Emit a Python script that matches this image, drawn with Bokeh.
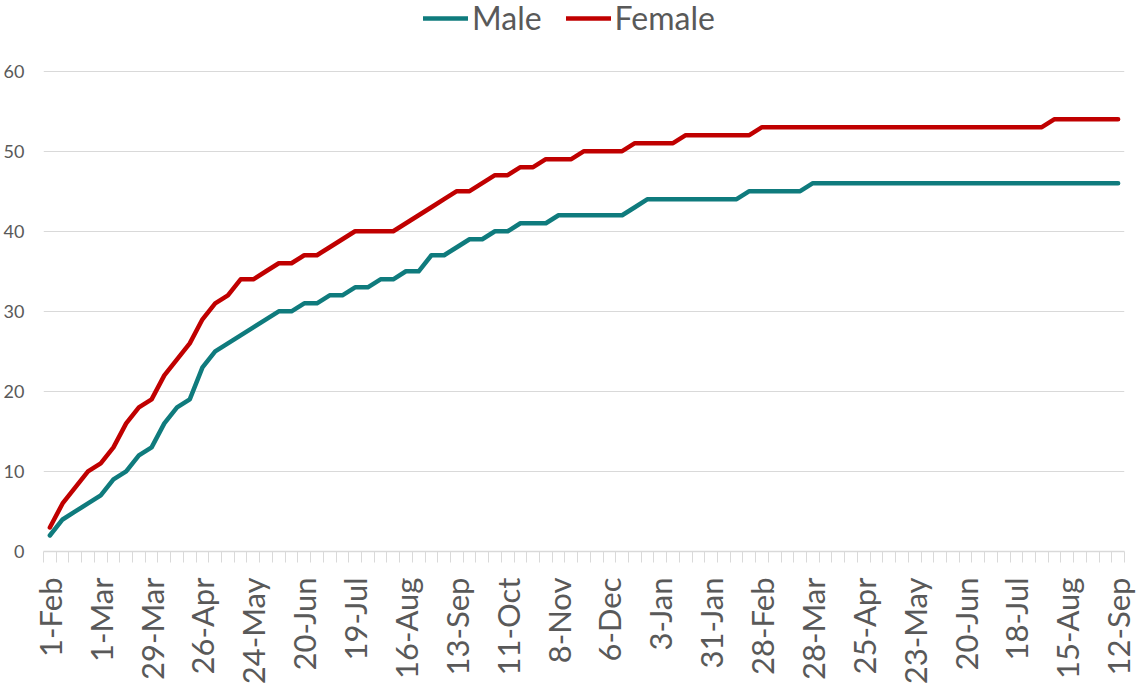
from bokeh.plotting import figure
from bokeh.models import Range1d, FixedTicker, Legend, LegendItem
from bokeh.embed import file_html
from bokeh.resources import INLINE
import math

# Weekly cumulative counts (one value per week, starting 1-Feb)
male = [2, 4, 5, 6, 7, 9, 10, 12, 13, 16, 18, 19, 23, 25, 26, 27, 28, 29, 30, 30,
        31, 31, 32, 32, 33, 33, 34, 34, 35, 35, 37, 37, 38, 39, 39, 40, 40, 41, 41, 41,
        42, 42, 42, 42, 42, 42, 43, 44, 44, 44, 44, 44, 44, 44, 44, 45, 45, 45, 45, 45,
        46, 46, 46, 46, 46, 46, 46, 46, 46, 46, 46, 46, 46, 46, 46, 46, 46, 46, 46, 46,
        46, 46, 46, 46, 46]
female = [3, 6, 8, 10, 11, 13, 16, 18, 19, 22, 24, 26, 29, 31, 32, 34, 34, 35, 36, 36,
          37, 37, 38, 39, 40, 40, 40, 40, 41, 42, 43, 44, 45, 45, 46, 47, 47, 48, 48, 49,
          49, 49, 50, 50, 50, 50, 51, 51, 51, 51, 52, 52, 52, 52, 52, 52, 53, 53, 53, 53,
          53, 53, 53, 53, 53, 53, 53, 53, 53, 53, 53, 53, 53, 53, 53, 53, 53, 53, 53, 54,
          54, 54, 54, 54, 54]
# Labels shown every 4th week
tick_labels = ["1-Feb", "1-Mar", "29-Mar", "26-Apr", "24-May", "20-Jun", "19-Jul",
               "16-Aug", "13-Sep", "11-Oct", "8-Nov", "6-Dec", "3-Jan", "31-Jan",
               "28-Feb", "28-Mar", "25-Apr", "23-May", "20-Jun", "18-Jul", "15-Aug",
               "12-Sep"]
label_step = 4
y_ticks = [0, 10, 20, 30, 40, 50, 60]

n = len(male)
x = list(range(n))

MALE_C = "#0F7B7D"
FEMALE_C = "#C00000"
TEXT_C = "#595959"
GRID_C = "#D9D9D9"
FONT = "Lato"

# frame spans full height above the x axis; legend sits in the headroom above 60
FRAME_H = 554
Y_TOP = max(y_ticks) * FRAME_H / 483.0

p = figure(width=1136, height=687,
           x_range=Range1d(-0.5, n - 0.5), y_range=Range1d(0, Y_TOP),
           output_backend="svg", toolbar_location=None,
           min_border_left=41, min_border_right=12, min_border_top=0,
           min_border_bottom=133)
p.outline_line_color = None
p.background_fill_color = "white"

r_m = p.line(x, male, line_color=MALE_C, line_width=4.5,
             line_join="round", line_cap="round")
r_f = p.line(x, female, line_color=FEMALE_C, line_width=4.5,
             line_join="round", line_cap="round")

# x axis
major = [i * label_step for i in range(len(tick_labels))]
p.xaxis.ticker = FixedTicker(ticks=major,
                             minor_ticks=[i - 0.5 for i in range(n + 1)])
p.xaxis.major_label_overrides = {m: lab for m, lab in zip(major, tick_labels)}
p.xaxis.major_label_orientation = math.pi / 2
p.xaxis.major_label_text_font = FONT
p.xaxis.major_label_text_font_size = "31px"
p.xaxis.major_label_text_color = TEXT_C
p.xaxis.major_tick_line_color = None
p.xaxis.major_tick_out = 0
p.xaxis.major_tick_in = 0
p.xaxis.major_label_standoff = 15
p.xaxis.minor_tick_line_color = GRID_C
p.xaxis.minor_tick_out = 11
p.xaxis.minor_tick_in = 0
p.xaxis.axis_line_color = GRID_C
p.xaxis.axis_line_width = 1.5
p.xgrid.grid_line_color = None

# y axis
p.yaxis.ticker = FixedTicker(ticks=y_ticks)
p.yaxis.axis_line_color = None
p.yaxis.major_tick_line_color = None
p.yaxis.minor_tick_line_color = None
p.yaxis.major_tick_out = 0
p.yaxis.major_tick_in = 0
p.yaxis.major_label_standoff = 19
p.yaxis.major_label_text_font = FONT
p.yaxis.major_label_text_font_size = "18px"
p.yaxis.major_label_text_color = TEXT_C
p.ygrid.grid_line_color = GRID_C
p.ygrid.grid_line_width = 1.2

legend = Legend(items=[LegendItem(label="Male", renderers=[r_m]),
                       LegendItem(label="Female", renderers=[r_f])],
                orientation="horizontal", location=(380, 514),
                glyph_width=45, glyph_height=30, label_standoff=4, spacing=24,
                padding=0, margin=0, border_line_color=None,
                background_fill_alpha=0,
                label_text_font=FONT, label_text_font_size="32px",
                label_text_color=TEXT_C)
p.add_layout(legend, "center")

open("out.html", "w").write(file_html(p, INLINE))
